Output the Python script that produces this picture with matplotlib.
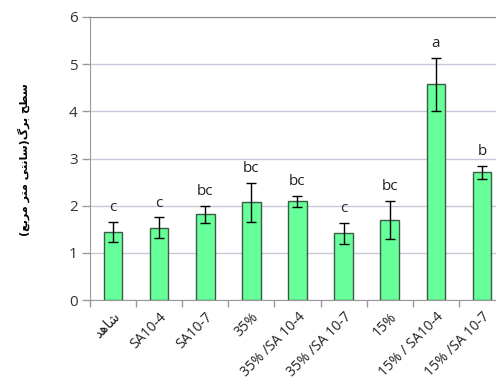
import matplotlib
matplotlib.use("Agg")
import matplotlib.pyplot as plt
import numpy as np

categories = ["\uFEAA\uFEEB\uFE8E\uFEB7", "SA10-4", "SA10-7", "35%", "35% /SA 10-4",
              "35% /SA 10-7", "15%", "15% / SA10-4", "15% /SA 10-7"]
values = [1.45, 1.53, 1.82, 2.07, 2.09, 1.41, 1.70, 4.57, 2.71]
errors = [0.21, 0.22, 0.18, 0.42, 0.11, 0.22, 0.40, 0.57, 0.14]
letters = ["c", "c", "bc", "bc", "bc", "c", "bc", "a", "b"]
yticks = [0, 1, 2, 3, 4, 5, 6]

# Persian label in visual (shaped, reversed) order
ylabel = ("(\uFECA\uFE91\uFEAE\uFEE3 \uFEAE\uFE98\uFEE3 \uFBFD\uFE98\uFEE7\uFE8E\uFEB3)"
          "\uFB92\uFEAE\uFE91 \uFEA2\uFEC4\uFEB3")

fig = plt.figure(figsize=(4.96, 3.85), dpi=100)
ax = fig.add_axes([90/496, 1-300/385, (505-90)/496, (300-17)/385])

x = np.arange(len(categories))
ax.bar(x, values, width=0.4, color="#66FF99", edgecolor="#3a5a44", linewidth=1.0, zorder=3)
ax.errorbar(x, values, yerr=errors, fmt="none", ecolor="black", elinewidth=1.0,
            capsize=3.5, capthick=1.0, zorder=4)
for xi, v, e, l in zip(x, values, errors, letters):
    ax.annotate(l, (xi, v + e), xytext=(0, 5), textcoords="offset points",
                ha="center", va="bottom", fontsize=11, family=["Open Sans", "DejaVu Sans"],
                color="#222222")

ax.set_xlim(-0.5, 8.5)
ax.set_ylim(0, 6)
ax.set_yticks(yticks)
ax.set_yticklabels([str(t) for t in yticks], fontsize=11, family="Open Sans", color="#333333")
ax.yaxis.grid(True, color="#c8c8d8", linewidth=1.0, zorder=0)
ax.set_axisbelow(True)

ax.set_xticks(np.arange(-0.5, 8.5, 1.0), minor=False)
ax.set_xticklabels([])
ax.tick_params(axis="x", which="major", length=5, color="#999999", width=1)
ax.set_xticks(x, minor=True)
ax.set_xticklabels(categories, minor=True, rotation=45, ha="right", rotation_mode="anchor",
                   fontsize=10, family=["Open Sans", "DejaVu Sans"], color="#222222")
ax.tick_params(axis="x", which="minor", length=0, pad=7)
ax.tick_params(axis="y", length=6, color="#999999", width=1, pad=3)

ax.spines["right"].set_visible(False)
ax.spines["top"].set_color("#888888")
ax.spines["left"].set_color("#999999")
ax.spines["bottom"].set_color("#999999")

fig.text(24/496, 1-160/385, ylabel, rotation=90, ha="center", va="center",
         fontsize=8, fontweight="bold", family=["DejaVu Sans"])

fig.savefig("out.png", dpi=100)
